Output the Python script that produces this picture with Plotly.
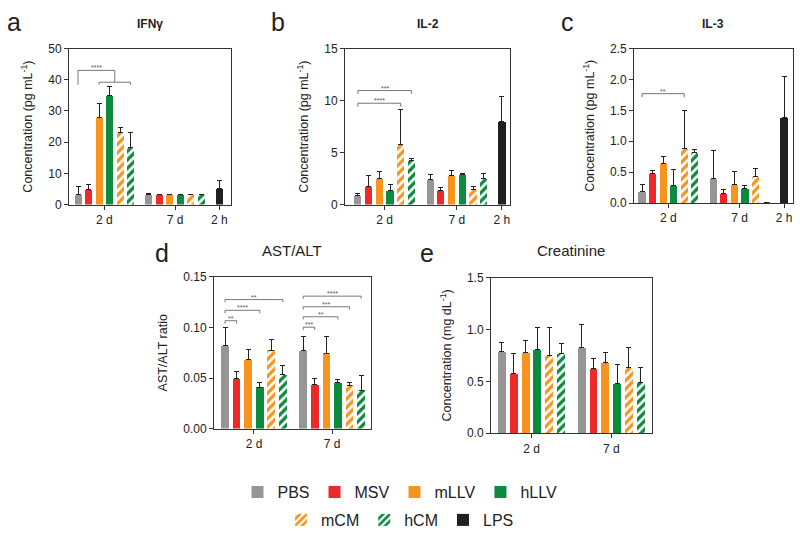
import plotly.graph_objects as go

W, H = 800, 537
FONT = "Liberation Sans"

# ---------------- data ----------------
series = ["PBS", "MSV", "mLLV", "hLLV", "mCM", "hCM"]
groups = ["2 d", "7 d"]
extra_group = "2 h"

colors = {"PBS": "#969696", "MSV": "#EC2A2A", "mLLV": "#F7941D",
          "hLLV": "#0C8A3E", "mCM": "#F7941D", "hCM": "#0C8A3E", "LPS": "#231F20"}
hatched = {"mCM", "hCM"}

# IFN-gamma (pg/mL): values for [2 d, 7 d]
ifng_mean = {"PBS": [3.4, 3.4], "MSV": [4.9, 3.1], "mLLV": [27.9, 3.2],
             "hLLV": [35.0, 3.1], "mCM": [23.1, 3.1], "hCM": [18.2, 3.1]}
ifng_err = {"PBS": [2.5, 0.2], "MSV": [1.6, 0.1], "mLLV": [4.5, 0.1],
            "hLLV": [2.9, 0.05], "mCM": [1.6, 0.1], "hCM": [4.8, 0.1]}
ifng_lps = [5.2]
ifng_lps_err = [2.4]

# IL-2 (pg/mL)
il2_mean = {"PBS": [0.9, 2.4], "MSV": [1.7, 1.4], "mLLV": [2.5, 2.8],
            "hLLV": [1.4, 2.9], "mCM": [5.8, 1.5], "hCM": [4.2, 2.5]}
il2_err = {"PBS": [0.2, 0.5], "MSV": [1.1, 0.2], "mLLV": [0.7, 0.5],
           "hLLV": [0.5, 0.1], "mCM": [3.3, 0.2], "hCM": [0.2, 0.45]}
il2_lps = [8.0]
il2_lps_err = [2.4]

# IL-3 (pg/mL)
il3_mean = {"PBS": [0.18, 0.39], "MSV": [0.48, 0.16], "mLLV": [0.64, 0.30],
            "hLLV": [0.28, 0.24], "mCM": [0.89, 0.43], "hCM": [0.81, 0.01]}
il3_err = {"PBS": [0.12, 0.46], "MSV": [0.05, 0.06], "mLLV": [0.12, 0.21],
           "hLLV": [0.26, 0.04], "mCM": [0.61, 0.13], "hCM": [0.05, 0.0]}
il3_lps = [1.39]
il3_lps_err = [0.66]

# AST/ALT ratio
ast_mean = {"PBS": [0.0817, 0.077], "MSV": [0.0494, 0.0433], "mLLV": [0.068, 0.0747],
            "hLLV": [0.041, 0.0452], "mCM": [0.0776, 0.043], "hCM": [0.0535, 0.0378]}
ast_err = {"PBS": [0.0183, 0.0137], "MSV": [0.0073, 0.0061], "mLLV": [0.010, 0.016],
           "hLLV": [0.005, 0.0032], "mCM": [0.0102, 0.003], "hCM": [0.0093, 0.0148]}

# Creatinine (mg/dL)
creat_mean = {"PBS": [0.79, 0.826], "MSV": [0.574, 0.627], "mLLV": [0.773, 0.68],
              "hLLV": [0.808, 0.483], "mCM": [0.75, 0.63], "hCM": [0.77, 0.486]}
creat_err = {"PBS": [0.083, 0.225], "MSV": [0.193, 0.093], "mLLV": [0.122, 0.096],
             "hLLV": [0.209, 0.184], "mCM": [0.273, 0.2], "hCM": [0.091, 0.147]}

# significance brackets: (group, bar_i, bar_j, y_line, y_tip, label)
sig_b = [(0, 0, 5, 10.96, 10.64, "***"), (0, 0, 4, 9.74, 9.40, "****")]
sig_c = [(0, 0, 4, 1.77, 1.71, "**")]
sig_d = [(0, 0, 1, 0.1067, 0.1037, "**"), (0, 0, 3, 0.1170, 0.1142, "****"),
         (0, 0, 5, 0.1276, 0.1250, "**"),
         (1, 0, 1, 0.1003, 0.0975, "***"), (1, 0, 3, 0.1106, 0.1080, "**"),
         (1, 0, 4, 0.1205, 0.1178, "***"), (1, 0, 5, 0.1310, 0.1284, "****")]
# panel a: PBS vs {mLLV, hLLV, mCM, hCM}
sig_a_outer = (0.0, 3.5, 43.0, 38.4, 39.2, "****")
sig_a_inner = (2, 5, 39.2, 38.4)

# ---------------- layout helpers ----------------
GROUP_OFFSET = [0.0, 6.75]
EXTRA_POS = 13.45
BAR_W = 0.67


def xpos(g, i):
    return GROUP_OFFSET[g] + i


panels = [
    dict(n="", box=(69, 231, 42.7, 203.3), yr=[0, 50], dt=10, fmt="d",
         yt="Concentration (pg mL<sup>-1</sup>)", xr=[-0.86, 14.57],
         mean=ifng_mean, err=ifng_err, lps=ifng_lps, lpse=ifng_lps_err),
    dict(n="2", box=(345, 510, 42.7, 203.3), yr=[0, 15], dt=5, fmt="d",
         yt="Concentration (pg mL<sup>-1</sup>)", xr=[-1.2, 14.2],
         mean=il2_mean, err=il2_err, lps=il2_lps, lpse=il2_lps_err),
    dict(n="3", box=(634, 793, 42.7, 201.7), yr=[0, 2.5], dt=0.5, fmt=".1f",
         yt="Concentration (pg mL<sup>-1</sup>)", xr=[-0.76, 14.3],
         mean=il3_mean, err=il3_err, lps=il3_lps, lpse=il3_lps_err),
    dict(n="4", box=(214, 371, 277.7, 433.7), yr=[0, 0.15], dt=0.05, fmt=".2f",
         yt="AST/ALT ratio", xr=[-0.95, 12.6],
         mean=ast_mean, err=ast_err, lps=None, lpse=None),
    dict(n="5", box=(491, 652, 278.3, 438.5), yr=[0, 1.5], dt=0.5, fmt=".1f",
         yt="Concentration (mg dL<sup>-1</sup>)", xr=[-0.93, 12.7],
         mean=creat_mean, err=creat_err, lps=None, lpse=None),
]

fig = go.Figure()

row1 = ["PBS", "MSV", "mLLV", "hLLV"]


def marker_for(s):
    m = dict(color=colors[s], line=dict(width=0))
    if s in hatched:
        m["pattern"] = dict(shape="/", fgcolor=colors[s], bgcolor="white",
                            fillmode="replace", size=6, solidity=0.55)
    return m


err_style = dict(type="data", symmetric=False, color="#222222", thickness=1, width=2.5)

for pi, p in enumerate(panels):
    xa = "x" + p["n"]
    ya = "y" + p["n"]
    for si, s in enumerate(series):
        xs = [xpos(g, si) for g in range(len(groups))]
        fig.add_trace(go.Bar(
            x=xs, y=p["mean"][s], width=BAR_W, name=s, legendgroup=s,
            showlegend=(pi == 0), legend=("legend" if s in row1 else "legend2"),
            marker=marker_for(s),
            error_y=dict(array=p["err"][s], arrayminus=[0] * len(xs), **err_style),
            xaxis=xa, yaxis=ya))
    if p["lps"] is not None:
        fig.add_trace(go.Bar(
            x=[EXTRA_POS], y=p["lps"], width=BAR_W, name="LPS", legendgroup="LPS",
            showlegend=(pi == 0), legend="legend2", marker=marker_for("LPS"),
            error_y=dict(array=p["lpse"], arrayminus=[0], **err_style),
            xaxis=xa, yaxis=ya))

    x0, x1, yt, yb = p["box"]
    tickvals = [GROUP_OFFSET[g] + 2.5 for g in range(len(groups))]
    ticktext = list(groups)
    if p["lps"] is not None:
        tickvals.append(EXTRA_POS)
        ticktext.append(extra_group)
    axis_common = dict(showline=True, linecolor="#333333", linewidth=1, mirror=True,
                       ticks="outside", ticklen=4, tickwidth=1, tickcolor="#333333",
                       showgrid=False, zeroline=False,
                       tickfont=dict(family=FONT, size=12, color="#222222"))
    fig.layout["xaxis" + p["n"]] = dict(
        domain=[x0 / W, x1 / W], range=p["xr"], anchor=ya,
        tickvals=tickvals, ticktext=ticktext, **axis_common)
    fig.layout["yaxis" + p["n"]] = dict(
        domain=[1 - yb / H, 1 - yt / H], range=p["yr"], anchor=xa,
        dtick=p["dt"], tick0=0, tickformat=p["fmt"],
        title=dict(text=p["yt"], font=dict(family=FONT, size=12.5, color="#222222"), standoff=12),
        **axis_common)

# ---------------- significance brackets ----------------
shapes = []
annotations = []
LC = "#555555"


def bracket(xa, ya, xl, xr, yl, ytl, ytr, label=None, lx=None):
    shapes.append(dict(type="path", xref=xa, yref=ya,
                       path=f"M {xl},{ytl} L {xl},{yl} L {xr},{yl} L {xr},{ytr}",
                       line=dict(color=LC, width=0.8)))
    if label:
        annotations.append(dict(x=(xl + xr) / 2 if lx is None else lx, y=yl, xref=xa, yref=ya,
                                text=label, showarrow=False, yanchor="bottom", yshift=-3,
                                font=dict(family=FONT, size=7, color=LC)))


for (g, i, j, yl, ytp, lab) in sig_b:
    bracket("x2", "y2", xpos(g, i), xpos(g, j), yl, ytp, ytp, lab)
for (g, i, j, yl, ytp, lab) in sig_c:
    bracket("x3", "y3", xpos(g, i), xpos(g, j), yl, ytp, ytp, lab)
for (g, i, j, yl, ytp, lab) in sig_d:
    bracket("x4", "y4", xpos(g, i), xpos(g, j), yl, ytp, ytp, lab)
ox0, ox1, oy, otl, otr, olab = sig_a_outer
bracket("x", "y", ox0, ox1, oy, otl, otr, olab)
ix0, ix1, iy, itp = sig_a_inner
bracket("x", "y", xpos(0, ix0), xpos(0, ix1), iy, itp, itp)

# ---------------- titles & panel letters ----------------
titles = [("IFNγ", 150, 17, True), ("IL-2", 428, 17, True), ("IL-3", 713, 17, True),
          ("AST/ALT", 292, 251, False), ("Creatinine", 571, 251, False)]
for t, x, y, bold in titles:
    annotations.append(dict(x=x / W, y=1 - y / H, xref="paper", yref="paper",
                            text=f"<b>{t}</b>" if bold else t, showarrow=False,
                            xanchor="center", yanchor="middle",
                            font=dict(family=FONT, size=12 if bold else 15, color="#222222")))
letters = [("a", 14, 15), ("b", 278, 15), ("c", 567, 15), ("d", 162, 253), ("e", 427, 253)]
for t, x, y in letters:
    annotations.append(dict(x=x / W, y=1 - y / H, xref="paper", yref="paper", text=t,
                            showarrow=False, xanchor="center", yanchor="middle",
                            font=dict(family=FONT, size=25, color="#222222")))

leg_common = dict(orientation="h", xanchor="center", yanchor="middle", x=0.5,
                  font=dict(family=FONT, size=16, color="#222222"),
                  bgcolor="rgba(0,0,0,0)", traceorder="normal")
fig.update_layout(
    width=W, height=H, margin=dict(l=0, r=0, t=0, b=0),
    paper_bgcolor="white", plot_bgcolor="white",
    barmode="overlay", bargap=0,
    shapes=shapes, annotations=annotations,
    legend=dict(y=1 - 499 / H, **leg_common),
    legend2=dict(y=1 - 528 / H, **leg_common),
)

fig.write_html("out.html", config={"displayModeBar": False},
               post_script="document.body.style.margin='0';document.body.style.overflow='hidden';")
